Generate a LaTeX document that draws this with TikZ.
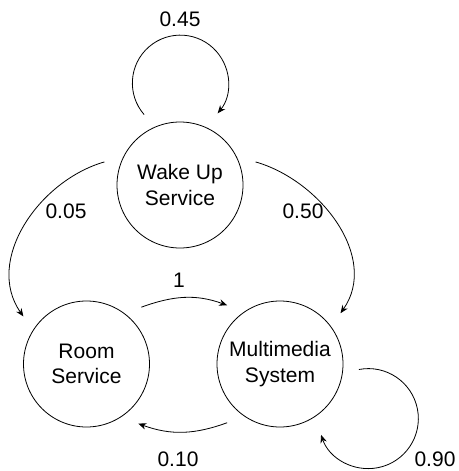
\documentclass[tikz,border=0pt]{standalone}
\usepackage{fontspec}
\setmainfont{Liberation Sans}
\usetikzlibrary{arrows.meta}
\begin{document}
\begin{tikzpicture}[x=1pt,y=1pt,
  state/.style={circle,draw,line width=0.8pt,minimum size=126pt,inner sep=0pt,outer sep=16pt,align=center,font=\fontsize{21}{25.5}\selectfont},
  lbl/.style={font=\fontsize{21}{25.5}\selectfont,inner sep=0pt},
  edge/.style={line width=0.8pt,-{Stealth[length=8pt,width=6.5pt]}}]
\useasboundingbox (0,0) rectangle (458,-471);
\node[state] (wake) at (180,-185) {Wake Up\\Service};
\node[state] (room) at (86.5,-364) {Room\\Service};
\node[state] (multi) at (280,-364) {Multimedia\\System};
\draw[edge] (wake.163) to[out=196,in=125] (room.143);
\draw[edge] (wake.17) to[out=-16,in=55] (multi.40);
\draw[edge] (room.46) to[out=20,in=160] (multi.132);
\draw[edge] (multi.228) to[out=200,in=-20] (room.311);
\draw[edge] (wake.117) arc[start angle=221,end angle=-39,radius=48pt];
\draw[edge] (multi.-4) arc[start angle=101,end angle=-161,radius=50pt];
\node[lbl] (l45) at (180,-19) {0.45};
\node[lbl] (l05) at (66,-211) {0.05};
\node[lbl] (l50) at (303,-211) {0.50};
\node[lbl] (l1) at (179,-280) {1};
\node[lbl] (l10) at (178,-459.5) {0.10};
\node[lbl] (l90) at (435,-459.5) {0.90};
\end{tikzpicture}
\end{document}
